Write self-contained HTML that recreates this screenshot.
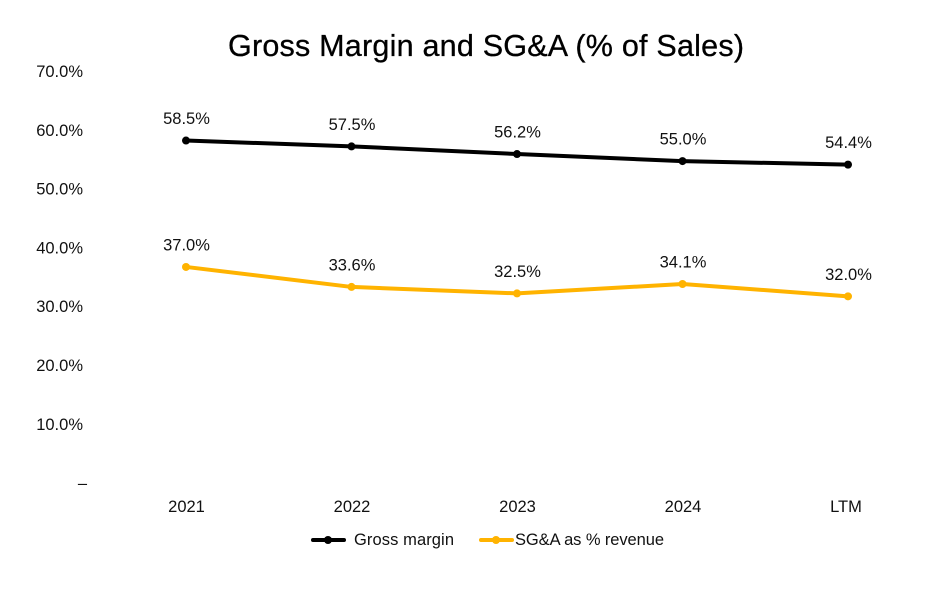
<!DOCTYPE html>
<html lang="en">
<head>
<meta charset="utf-8">
<title>Gross Margin and SG&amp;A (% of Sales)</title>
<style>
  html, body { margin: 0; padding: 0; background: #fff; }
  svg { display: block; font-family: "Liberation Sans", sans-serif; fill: #111; }
</style>
</head>
<body>
<svg id="chart" xmlns="http://www.w3.org/2000/svg" width="932" height="598" viewBox="0 0 932 598">
  <text x="486" y="56" text-anchor="middle" font-size="30.5" textLength="516" lengthAdjust="spacing" style="fill:#000;stroke:#000;stroke-width:0.3px">Gross Margin and SG&amp;A (% of Sales)</text>
  <g>
    <g>
      <line x1="313" y1="540" x2="344" y2="540" stroke="#000" stroke-width="4" stroke-linecap="round"></line>
      <circle cx="328" cy="540" r="4" fill="#000"></circle>
      <text x="354" y="545" font-size="16.5" textLength="100" lengthAdjust="spacing">Gross margin</text>
    </g>
    <g>
      <line x1="481" y1="540" x2="512" y2="540" stroke="#FFB300" stroke-width="4" stroke-linecap="round"></line>
      <circle cx="496" cy="540" r="4" fill="#FFB300"></circle>
      <text x="515" y="545" font-size="16.5" textLength="149" lengthAdjust="spacing">SG&amp;A as % revenue</text>
    </g>
  </g>
</svg>
<script>
const categories = ['2021', '2022', '2023', '2024', 'LTM'];
const grossMargin = [58.5, 57.5, 56.2, 55.0, 54.4];
const sgaRevenue = [37.0, 33.6, 32.5, 34.1, 32.0];
const yTickValues = [70, 60, 50, 40, 30, 20, 10, 0];
const yTickLabels = ['70.0%', '60.0%', '50.0%', '40.0%', '30.0%', '20.0%', '10.0%', '–'];

const svg = document.getElementById('chart');
const NS = 'http://www.w3.org/2000/svg';

function xScale(i) {
  return 186 + i * (848 - 186) / (categories.length - 1);
}
function yScale(v) {
  return 484.5 - v * 5.88;
}
function make(tag, attrs, text) {
  const el = document.createElementNS(NS, tag);
  for (const k in attrs) el.setAttribute(k, attrs[k]);
  if (text !== undefined) el.textContent = text;
  return el;
}

const yAxis = make('g', {});


svg.appendChild(yAxis);
yTickValues.forEach(function (v, i) {
  const t = make('text', {
    x: v === 0 ? 87 : 83,
    y: yScale(v) + 4.1,
    'text-anchor': 'end',
    'font-size': 16.5
  }, yTickLabels[i]);
  
  
  yAxis.appendChild(t);
});

const xAxis = make('g', {});


svg.appendChild(xAxis);
categories.forEach(function (c, i) {
  const t = make('text', {
    x: xScale(i) + (c === 'LTM' ? -2 : 0.5),
    y: 512,
    'text-anchor': 'middle',
    'font-size': 16.5
  }, c);
  
  
  xAxis.appendChild(t);
});

function drawSeries(values, color, name) {
  const g = make('g', {});
  
  
  svg.appendChild(g);

  const pts = values.map(function (v, i) {
    return xScale(i) + ',' + yScale(v);
  }).join(' ');
  const line = make('polyline', {
    points: pts,
    fill: 'none',
    stroke: color,
    'stroke-width': 4,
    'stroke-linejoin': 'round'
  });
  
  
  g.appendChild(line);

  values.forEach(function (v, i) {
    const dot = make('circle', {
      cx: xScale(i),
      cy: yScale(v),
      r: 4,
      fill: color
    });
    
    
    g.appendChild(dot);

    const label = make('text', {
      x: xScale(i) + 0.5,
      y: yScale(v) - 16.5,
      'text-anchor': 'middle',
      'font-size': 16.5
    }, v.toFixed(1) + '%');
    
    
    g.appendChild(label);
  });
}

drawSeries(grossMargin, '#000000', 'gross-margin');
drawSeries(sgaRevenue, '#FFB300', 'sga');
</script>
</body>
</html>
